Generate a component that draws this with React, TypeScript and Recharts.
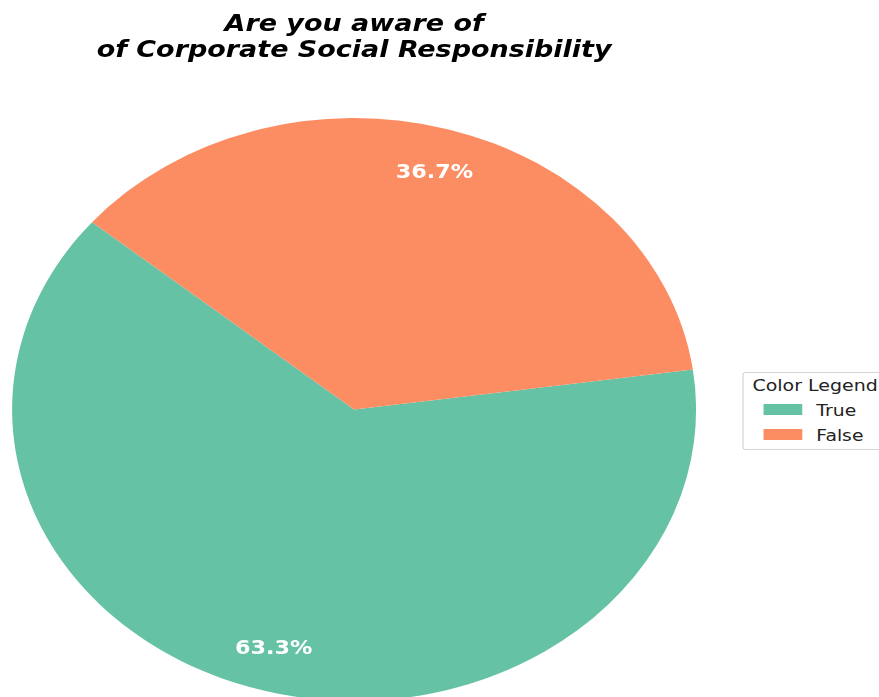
import React from 'react';
import { PieChart, Pie, Cell, Legend } from 'recharts';

const categories = ['True', 'False'];
const shares = [63.3, 36.7];
const colors = ['#66c2a5', '#fc8d62'];
const titleLines = ['Are you aware of', 'of Corporate Social Responsibility'];

const data = categories.map((name, i) => ({ name, value: shares[i] }));

// the reference is stretched horizontally, so draw unstretched and scale x
const STRETCH = 1.1732;
const W = 743;
const H = 689;
const FONT = '"DejaVu Sans", sans-serif';
const RAD = Math.PI / 180;

const renderLabel = (props: any) => {
  const { cx, cy, midAngle, outerRadius, percent } = props;
  const r = outerRadius * 0.85;
  const x = cx + r * Math.cos(-midAngle * RAD);
  const y = cy + r * Math.sin(-midAngle * RAD);
  return (
    <text
      x={x}
      y={y}
      fill="#ffffff"
      textAnchor="middle"
      dominantBaseline="central"
      fontFamily={FONT}
      fontWeight="bold"
      fontSize={19}
    >
      {`${(percent * 100).toFixed(1)}%`}
    </text>
  );
};

// keep the legend in data order (recharts sorts by name otherwise)
const renderLegend = () => (
  <div
    style={{
      width: 160,
      height: 78,
      background: '#ffffff',
      border: '1px solid #d6d6d6',
      borderRadius: 3,
      boxSizing: 'border-box',
    }}
  >
    <svg width={160} height={78} style={{ display: 'block' }}>
      <text x={7.5} y={18} fontFamily={FONT} fontSize={16.2} fill="#222">
        Color Legend
      </text>
      {categories.map((name, i) => (
        <g key={name}>
          <rect x={17} y={31 + i * 25} width={33} height={11} fill={colors[i]} />
          <text x={62} y={43 + i * 25} fontFamily={FONT} fontSize={16} fill="#222">
            {name}
          </text>
        </g>
      ))}
    </svg>
  </div>
);

export default function App() {
  // pinned to the window so the legend can run to the right edge like the reference
  return (
    <div style={{ position: 'fixed', left: 0, top: 0, width: 879, height: 697, overflow: 'hidden' }}>
      <div
        style={{
          position: 'absolute',
          left: 8,
          top: 8,
          width: W,
          height: H,
          transform: `scaleX(${STRETCH})`,
          transformOrigin: '0 0',
        }}
      >
        <PieChart width={W} height={H} margin={{ top: 0, right: 0, bottom: 0, left: 0 }}>
          <text
            x={295}
            y={23}
            textAnchor="middle"
            fontFamily={FONT}
            fontWeight="bold"
            fontStyle="italic"
            fontSize={23}
            fill="#000"
          >
            {titleLines[0]}
          </text>
          <text
            x={295}
            y={49}
            textAnchor="middle"
            fontFamily={FONT}
            fontWeight="bold"
            fontStyle="italic"
            fontSize={23}
            fill="#000"
          >
            {titleLines[1]}
          </text>
          <Pie
            data={data}
            dataKey="value"
            nameKey="name"
            cx={295}
            cy={401.5}
            outerRadius={291.5}
            startAngle={140}
            endAngle={500}
            stroke="none"
            label={renderLabel}
            labelLine={false}
            isAnimationActive={false}
          >
            {data.map((d, i) => (
              <Cell key={d.name} fill={colors[i]} />
            ))}
          </Pie>
          <Legend
            layout="vertical"
            align="right"
            verticalAlign="middle"
            content={renderLegend}
            wrapperStyle={{ position: 'absolute', left: 625.6, top: 364, width: 160 }}
          />
        </PieChart>
      </div>
    </div>
  );
}
